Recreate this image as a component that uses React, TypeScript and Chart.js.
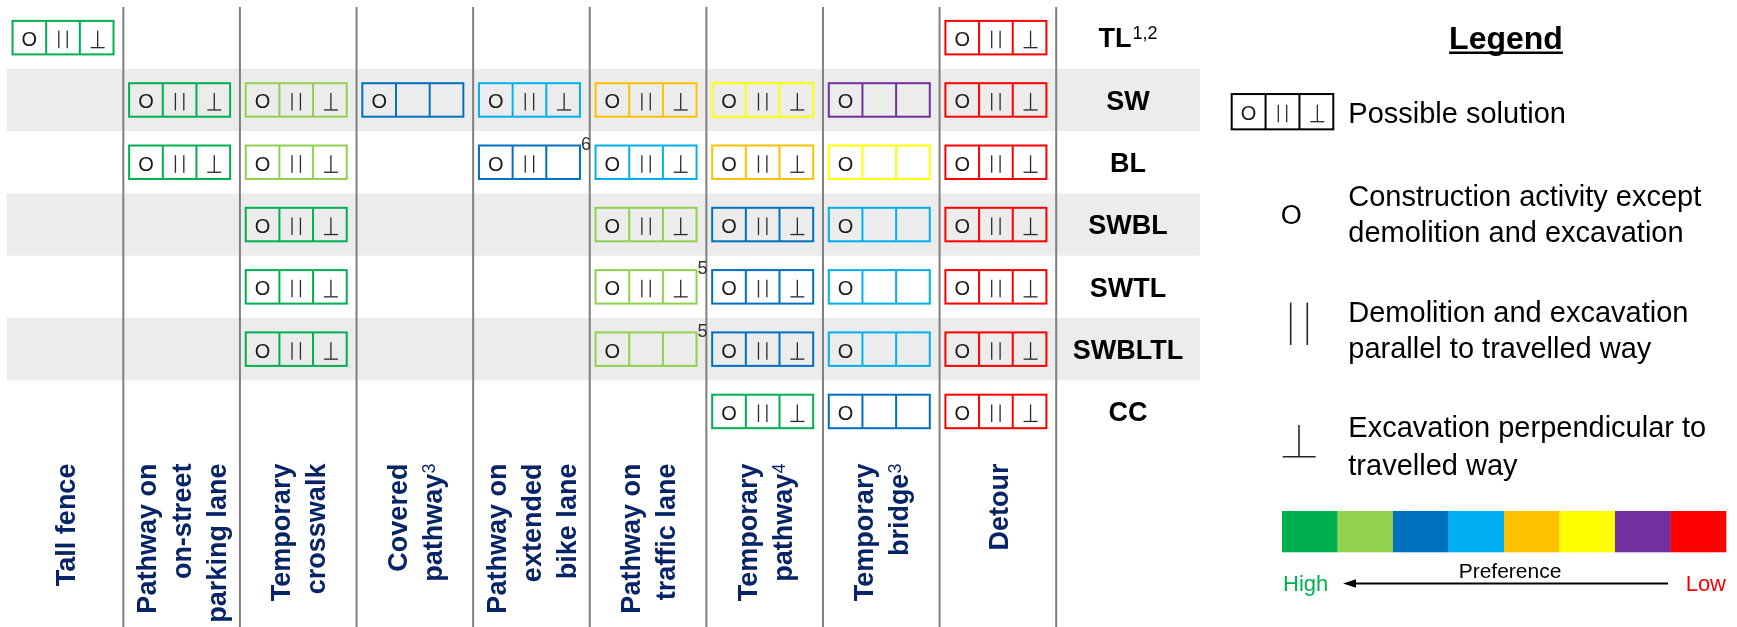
import React, { useEffect, useRef } from "react";
import { Chart, registerables } from "chart.js";

Chart.register(...registerables);

// ---------- data ----------
const columnLines: string[][] = [
  ["Tall fence"],
  ["Pathway on", "on-street", "parking lane"],
  ["Temporary", "crosswalk"],
  ["Covered", "pathway"],
  ["Pathway on", "extended", "bike lane"],
  ["Pathway on", "traffic lane"],
  ["Temporary", "pathway"],
  ["Temporary", "bridge"],
  ["Detour"],
];
const columnNotes = ["", "", "", "3", "", "", "4", "3", ""];
const columnKeys = columnLines.map((l) => l.join(" "));

const rowLabels = ["TL", "SW", "BL", "SWBL", "SWTL", "SWBLTL", "CC"];
const rowNotes = ["1,2", "", "", "", "", "", ""];

// preference colours: High -> Low
const preferenceColors = ["#00B050", "#92D050", "#0070C0", "#00B0F0", "#FFC000", "#FFFF00", "#7030A0", "#FF0000"];

// colour index per cell (-1 = no solution)
const colorGrid = [
  [0, -1, -1, -1, -1, -1, -1, -1, 7],
  [-1, 0, 1, 2, 3, 4, 5, 6, 7],
  [-1, 0, 1, -1, 2, 3, 4, 5, 7],
  [-1, -1, 0, -1, -1, 1, 2, 3, 7],
  [-1, -1, 0, -1, -1, 1, 2, 3, 7],
  [-1, -1, 0, -1, -1, 1, 2, 3, 7],
  [-1, -1, -1, -1, -1, -1, 0, 2, 7],
];
// activities allowed: 1 = O, 2 = O + ||, 3 = O + || + ⊥
const levelGrid = [
  [3, 0, 0, 0, 0, 0, 0, 0, 3],
  [0, 3, 3, 1, 3, 3, 3, 1, 3],
  [0, 3, 3, 0, 2, 3, 3, 1, 3],
  [0, 0, 3, 0, 0, 3, 3, 1, 3],
  [0, 0, 3, 0, 0, 3, 3, 1, 3],
  [0, 0, 3, 0, 0, 1, 3, 1, 3],
  [0, 0, 0, 0, 0, 0, 3, 1, 3],
];
const noteRows = [2, 4, 5];
const noteCols = [4, 5, 5];
const noteTexts = ["6", "5", "5"];

const legendTitle = "Legend";
const legendPossible = "Possible solution";
const legendO = ["Construction activity except", "demolition and excavation"];
const legendPar = ["Demolition and excavation", "parallel to travelled way"];
const legendPerp = ["Excavation perpendicular to", "travelled way"];
const prefLabel = "Preference";
const highLabel = "High";
const lowLabel = "Low";

// ---------- drawing helpers ----------
const FONT = "'Liberation Sans', Arial, sans-serif";

function line(ctx: CanvasRenderingContext2D, x1: number, y1: number, x2: number, y2: number) {
  ctx.beginPath();
  ctx.moveTo(x1, y1);
  ctx.lineTo(x2, y2);
  ctx.stroke();
}

function drawCellBox(
  ctx: CanvasRenderingContext2D,
  cx: number,
  cy: number,
  color: string,
  level: number,
  w = 101,
  h = 33.5
) {
  const sw = w / 3;
  const left = cx - w / 2;
  const top = cy - h / 2;
  ctx.save();
  ctx.strokeStyle = color;
  ctx.lineWidth = 2;
  ctx.strokeRect(left, top, w, h);
  line(ctx, left + sw, top, left + sw, top + h);
  line(ctx, left + 2 * sw, top, left + 2 * sw, top + h);

  ctx.fillStyle = "#1a1a1a";
  ctx.font = `20px ${FONT}`;
  ctx.textAlign = "center";
  ctx.textBaseline = "alphabetic";
  if (level >= 1) ctx.fillText("O", left + sw / 2, cy + 8.5);
  ctx.strokeStyle = "#2a2a2a";
  ctx.lineWidth = 1.3;
  if (level >= 2) {
    const mx = left + 1.5 * sw;
    line(ctx, mx - 4.2, cy - 7, mx - 4.2, cy + 10.5);
    line(ctx, mx + 4.2, cy - 7, mx + 4.2, cy + 10.5);
  }
  if (level >= 3) {
    const mx = left + 2.5 * sw + 1;
    line(ctx, mx, cy - 7, mx, cy + 10);
    line(ctx, mx - 7, cy + 10, mx + 7, cy + 10);
  }
  ctx.restore();
}

const tablePlugin = {
  id: "solutionTable",
  beforeDatasetsDraw(chart: any) {
    const { ctx, chartArea, scales } = chart;
    const xs = scales.x;
    const ys = scales.y;
    const colW = (chartArea.right - chartArea.left) / columnLines.length;
    const rowH = (chartArea.bottom - chartArea.top) / rowLabels.length;
    const labelW = colW * 1.233;

    ctx.save();
    // alternating grey bands
    ctx.fillStyle = "#ececec";
    rowLabels.forEach((_, i) => {
      if (i % 2 === 1) {
        const cy = ys.getPixelForValue(i);
        ctx.fillRect(chartArea.left, cy - rowH / 2, chartArea.right - chartArea.left + labelW, rowH);
      }
    });
    // vertical separators
    ctx.strokeStyle = "#7f7f7f";
    ctx.lineWidth = 2;
    for (let i = 0; i < columnLines.length; i++) {
      const x = xs.getPixelForValue(i) + colW / 2;
      line(ctx, x, chartArea.top + 0.5, x, chart.height);
    }

    // row labels
    ctx.fillStyle = "#000";
    ctx.textBaseline = "alphabetic";
    rowLabels.forEach((lab, i) => {
      const cy = ys.getPixelForValue(i);
      const cx = chartArea.right + labelW / 2;
      ctx.font = `bold 27px ${FONT}`;
      const w1 = ctx.measureText(lab).width;
      ctx.font = `18px ${FONT}`;
      const w2 = rowNotes[i] ? ctx.measureText(rowNotes[i]).width + 1 : 0;
      const x0 = cx - (w1 + w2) / 2;
      ctx.textAlign = "left";
      ctx.font = `bold 27px ${FONT}`;
      ctx.fillText(lab, x0, cy + 9.7);
      if (rowNotes[i]) {
        ctx.font = `18px ${FONT}`;
        ctx.fillText(rowNotes[i], x0 + w1 + 1, cy + 1.5);
      }
    });

    // column headers (rotated)
    const headerTop = chartArea.bottom + 21;
    ctx.fillStyle = "#062466";
    columnLines.forEach((lines, c) => {
      const cx = xs.getPixelForValue(c);
      const n = lines.length;
      lines.forEach((t, i) => {
        const lcx = cx + (i - (n - 1) / 2) * 35;
        ctx.save();
        ctx.translate(lcx + 9.7, headerTop);
        ctx.rotate(-Math.PI / 2);
        ctx.textAlign = "right";
        let end = 0;
        if (i === n - 1 && columnNotes[c]) {
          ctx.font = `18px ${FONT}`;
          ctx.fillText(columnNotes[c], 0, -7);
          end = -ctx.measureText(columnNotes[c]).width;
        }
        ctx.font = `bold 27px ${FONT}`;
        ctx.fillText(t, end, 0);
        ctx.restore();
      });
    });
    ctx.restore();
  },
  afterDatasetsDraw(chart: any) {
    const { ctx } = chart;
    const meta = chart.getDatasetMeta(0);
    const raw = chart.data.datasets[0].data as any[];
    meta.data.forEach((el: any, i: number) => {
      const d = raw[i];
      const cx = el.x - 2;
      const cy = el.y;
      drawCellBox(ctx, cx, cy, preferenceColors[d.colorIdx], d.level);
      if (d.note) {
        ctx.save();
        ctx.fillStyle = "#333";
        ctx.font = `18px ${FONT}`;
        ctx.textAlign = "left";
        ctx.textBaseline = "alphabetic";
        ctx.fillText(d.note, cx + 50.5 + 1, cy - 17 + 4.5);
        ctx.restore();
      }
    });

    // ----- legend -----
    ctx.save();
    ctx.fillStyle = "#000";
    ctx.textBaseline = "alphabetic";
    ctx.font = `bold 32px ${FONT}`;
    ctx.textAlign = "center";
    ctx.fillText(legendTitle, 1506, 48.7);
    const tw = ctx.measureText(legendTitle).width;
    ctx.fillRect(1506 - tw / 2, 51.5, tw, 2.5);

    drawCellBox(ctx, 1282.5, 111.7, "#000", 3, 101.6, 35.3);

    ctx.font = `29px ${FONT}`;
    ctx.textAlign = "left";
    ctx.fillText(legendPossible, 1348.3, 123.3);
    ctx.fillText(legendO[0], 1348.3, 205.7);
    ctx.fillText(legendO[1], 1348.3, 241.7);
    ctx.fillText(legendPar[0], 1348.3, 321.7);
    ctx.fillText(legendPar[1], 1348.3, 357.7);
    ctx.fillText(legendPerp[0], 1348.3, 437.3);
    ctx.fillText(legendPerp[1], 1348.3, 475);

    ctx.font = `27px ${FONT}`;
    ctx.textAlign = "center";
    ctx.fillText("O", 1291.3, 224);
    ctx.strokeStyle = "#262626";
    ctx.lineWidth = 1.6;
    line(ctx, 1290.7, 302.7, 1290.7, 345);
    line(ctx, 1307.3, 302.7, 1307.3, 345);
    line(ctx, 1299, 425, 1299, 456.7);
    line(ctx, 1282.7, 456.7, 1315.7, 456.7);

    const segW = (1726 - 1282) / preferenceColors.length;
    preferenceColors.forEach((col, i) => {
      ctx.fillStyle = col;
      ctx.fillRect(1282 + i * segW, 511, segW + 0.3, 41.3);
    });

    ctx.font = `22px ${FONT}`;
    ctx.textAlign = "left";
    ctx.fillStyle = "#00B050";
    ctx.fillText(highLabel, 1283, 591);
    ctx.textAlign = "right";
    ctx.fillStyle = "#FF0000";
    ctx.fillText(lowLabel, 1726, 591);
    ctx.textAlign = "center";
    ctx.fillStyle = "#000";
    ctx.font = `21px ${FONT}`;
    ctx.fillText(prefLabel, 1510, 577.5);

    ctx.strokeStyle = "#000";
    ctx.lineWidth = 2;
    line(ctx, 1352, 583.5, 1668, 583.5);
    ctx.beginPath();
    ctx.moveTo(1343, 583.5);
    ctx.lineTo(1356, 579.3);
    ctx.lineTo(1356, 587.7);
    ctx.closePath();
    ctx.fill();
    ctx.restore();
  },
};

export default function App() {
  const canvasRef = useRef<HTMLCanvasElement | null>(null);

  useEffect(() => {
    document.body.style.margin = "0";
    document.body.style.overflow = "hidden";
    const canvas = canvasRef.current;
    if (!canvas) return;

    const points: any[] = [];
    colorGrid.forEach((row, r) =>
      row.forEach((ci, c) => {
        if (ci >= 0) {
          let note = "";
          noteRows.forEach((nr, k) => {
            if (nr === r && noteCols[k] === c) note = noteTexts[k];
          });
          points.push({ x: columnKeys[c], y: rowLabels[r], colorIdx: ci, level: levelGrid[r][c], note });
        }
      })
    );

    const chart = new Chart(canvas, {
      type: "scatter",
      data: {
        datasets: [
          {
            label: "Possible solutions",
            data: points,
            pointRadius: 0,
            pointHoverRadius: 0,
            showLine: false,
          } as any,
        ],
      },
      options: {
        animation: false,
        responsive: false,
        maintainAspectRatio: false,
        devicePixelRatio: 1,
        events: [],
        layout: { padding: { left: 6.7, right: 680.8, top: 6.5, bottom: 184.4 } },
        scales: {
          x: { type: "category", labels: columnKeys, offset: true, display: false },
          y: { type: "category", labels: rowLabels, offset: true, display: false },
        },
        plugins: { legend: { display: false }, tooltip: { enabled: false } },
      },
      plugins: [tablePlugin],
    });
    return () => chart.destroy();
  }, []);

  return (
    <div style={{ width: 1737, height: 627, background: "#fff" }}>
      <canvas ref={canvasRef} width={1737} height={627} style={{ display: "block" }} />
    </div>
  );
}
